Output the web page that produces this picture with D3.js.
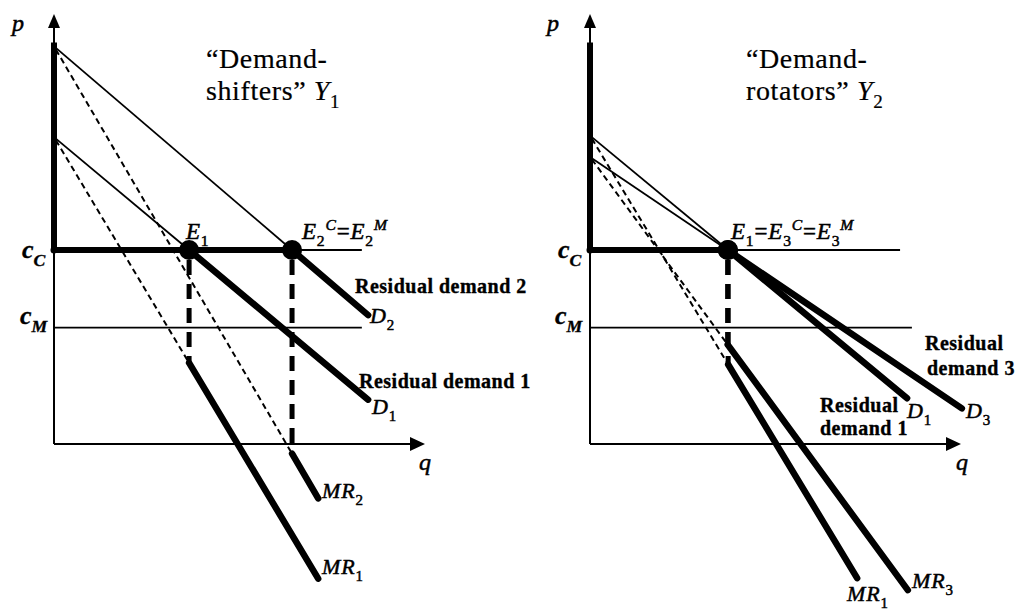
<!DOCTYPE html>
<html>
<head>
<meta charset="utf-8">
<script src="https://cdn.jsdelivr.net/npm/d3@7"></script>
<style>
  body { margin: 0; background: #fff; }
  svg { display: block; }
  text { font-family: 'Liberation Serif', 'Times New Roman', serif; fill: #000; stroke: #000; stroke-width: 0.35; }
  .bold { font-weight: bold; letter-spacing: 0.5px; }
  .title { letter-spacing: 0.6px; stroke-width: 0.2; }
  .sym { letter-spacing: 0.8px; stroke-width: 0.5; }
</style>
</head>
<body>
<div id="chart"></div>
<script>
// cost levels and axis extents (data units)
const cC = 5
const cM = 3
const qMax = 10
const pArrow = 11.08
const pThickTop = 10.35

// demand curves p = a - b q  (name, intercept, slope, end of residual part)
const shiftDemand = [
  { name: 'D1', a: 7.91, b: 0.797, qEnd: 8.49 },
  { name: 'D2', a: 10.25, b: 0.816, qEnd: 8.49 }
]
const shiftMR = [
  { name: 'MR1', a: 7.91, b: 1.594, qEnd: 7.14 },
  { name: 'MR2', a: 10.25, b: 1.632, qEnd: 7.14 }
]
const rotDemand = [
  { name: 'D1', a: 7.95, b: 0.79, qEnd: 8.57 },
  { name: 'D3', a: 7.4, b: 0.645, qEnd: 10.05 }
]
const rotMR = [
  { name: 'MR1', a: 7.95, b: 1.58, qEnd: 7.22 },
  { name: 'MR3', a: 7.4, b: 1.3, qEnd: 8.59 }
]
// end of the thin cost lines
const costLineEnd = { left: [8.32, 8.32], right: [8.38, 8.7] }

const W = 1016, H = 614
let svg = d3.select('#chart').append('svg').attr('width', W).attr('height', H)

let yScale = d3.scaleLinear().domain([0, 10]).range([444, 56])

function drawPanel (x0, demand, mr, costEnd) {
  let x = d3.scaleLinear().domain([0, qMax]).range([x0, x0 + 370])
  let y = yScale
  let g = svg.append('g')
  let line = d3.line().x(d => x(d[0])).y(d => y(d[1]))
  let qE = d => (d.a - cC) / d.b
  let pAt = (d, q) => d.a - d.b * q

  // axes
  g.append('line').attr('x1', x(0)).attr('y1', y(0)).attr('x2', x(0)).attr('y2', y(pArrow) + 10)
    .attr('stroke', '#000').attr('stroke-width', 2)
  g.append('path').attr('d', `M${x(0)},${y(pArrow)} l-6,14 l12,0 z`).attr('fill', '#000')
  g.append('line').attr('x1', x(0)).attr('y1', y(0)).attr('x2', x(qMax) - 10).attr('y2', y(0))
    .attr('stroke', '#000').attr('stroke-width', 2)
  g.append('path').attr('d', `M${x(qMax) + 1},${y(0)} l-15,-7 l0,14 z`).attr('fill', '#000')

  // cost lines
  g.append('line').attr('x1', x(0)).attr('x2', x(costEnd[0])).attr('y1', y(cC)).attr('y2', y(cC))
    .attr('stroke', '#000').attr('stroke-width', 1.8)
  g.append('line').attr('x1', x(0)).attr('x2', x(costEnd[1])).attr('y1', y(cM)).attr('y2', y(cM))
    .attr('stroke', '#000').attr('stroke-width', 1.8)

  // dashed MR up to the kink
  g.selectAll('.mrdash').data(mr).enter().append('path').classed('mrdash', true)
    .attr('d', (d, i) => line([[0.05, pAt(d, 0.05)], [qE(demand[i]), pAt(d, qE(demand[i]))]]))
    .attr('fill', 'none').attr('stroke', '#000').attr('stroke-width', 2).attr('stroke-dasharray', '6 4')

  // thin demand up to cC
  g.selectAll('.dthin').data(demand).enter().append('path').classed('dthin', true)
    .attr('d', d => line([[0.05, pAt(d, 0.05)], [qE(d), cC]]))
    .attr('fill', 'none').attr('stroke', '#000').attr('stroke-width', 1.8)

  // thick dashed verticals at equilibrium
  g.selectAll('.vdash').data(demand).enter().append('line').classed('vdash', true)
    .attr('x1', d => x(qE(d))).attr('x2', d => x(qE(d)))
    .attr('y1', y(cC) + 10).attr('y2', (d, i) => y(pAt(mr[i], qE(d))))
    .attr('stroke', '#000').attr('stroke-width', 5).attr('stroke-dasharray', '15 9')

  // residual demand: thick y-axis, thick cC segment, thick demand tail
  let qMaxE = d3.max(demand, qE)
  g.append('line').attr('x1', x(0)).attr('x2', x(0)).attr('y1', y(pThickTop)).attr('y2', y(cC))
    .attr('stroke', '#000').attr('stroke-width', 6)
  g.append('line').attr('x1', x(0)).attr('x2', x(qMaxE)).attr('y1', y(cC)).attr('y2', y(cC))
    .attr('stroke', '#000').attr('stroke-width', 6)
  g.selectAll('.dthick').data(demand).enter().append('path').classed('dthick', true)
    .attr('d', d => line([[qE(d), cC], [d.qEnd, pAt(d, d.qEnd)]]))
    .attr('fill', 'none').attr('stroke', '#000').attr('stroke-width', 6.5).attr('stroke-linecap', 'round')

  // thick MR tails
  g.selectAll('.mrthick').data(mr).enter().append('path').classed('mrthick', true)
    .attr('d', (d, i) => line([[qE(demand[i]), pAt(d, qE(demand[i]))], [d.qEnd, pAt(d, d.qEnd)]]))
    .attr('fill', 'none').attr('stroke', '#000').attr('stroke-width', 6.5).attr('stroke-linecap', 'round')

  // points
  g.append('circle').attr('cx', x(0)).attr('cy', y(cC)).attr('r', 3.5).attr('fill', '#000')
  g.selectAll('.eq').data(demand).enter().append('circle').classed('eq', true)
    .attr('cx', d => x(qE(d))).attr('cy', y(cC)).attr('r', 10).attr('fill', '#000')

  return { g, x, y, qE, pAt }
}

// label helper: parts = [[text, 'main'|'sub'|'sup', italic]]
function label (g, px, py, parts, size, cls) {
  let t = g.append('text').attr('x', px).attr('y', py).attr('font-size', size)
  if (cls) t.attr('class', cls)
  let shift = 0
  parts.forEach(p => {
    let s = t.append('tspan').text(p[0])
    let target = p[1] === 'sub' ? size * 0.3 : p[1] === 'sup' ? -size * 0.4 : 0
    if (target !== shift) { s.attr('dy', target - shift); shift = target }
    if (p[1] !== 'main') s.attr('font-size', size * 0.68)
    s.attr('font-style', p[2] ? 'italic' : 'normal')
  })
  return t
}

// cost label: bold italic c with subscript
function costLabel (g, px, py, sub) {
  label(g, px, py, [['c', 'main', true], [sub, 'sub', true]], 26).attr('font-weight', 'bold')
}

// Left panel
let L = drawPanel(54, shiftDemand, shiftMR, costLineEnd.left)
label(L.g, 12, 31, [['p', 'main', true]], 24, 'sym')
label(L.g, 206, 68, [['\u201cDemand-', 'main', false]], 28, 'title')
label(L.g, 206, 100, [['shifters\u201d ', 'main', false], ['Y', 'main', true], ['1', 'sub', false]], 28, 'title')
label(L.g, 186, 239, [['E', 'main', true], ['1', 'sub', false]], 23, 'sym')
label(L.g, 302, 239, [['E', 'main', true], ['2', 'sub', false], ['C', 'sup', true], ['=', 'main', false], ['E', 'main', true], ['2', 'sub', false], ['M', 'sup', true]], 23, 'sym')
costLabel(L.g, 22, 258, 'C')
costLabel(L.g, 20, 324, 'M')
label(L.g, 355, 293, [['Residual demand 2', 'main', false]], 20, 'bold')
label(L.g, 359, 388, [['Residual demand 1', 'main', false]], 20, 'bold')
label(L.g, 370, 323, [['D', 'main', true], ['2', 'sub', false]], 22, 'sym')
label(L.g, 372, 414, [['D', 'main', true], ['1', 'sub', false]], 22, 'sym')
label(L.g, 419, 470, [['q', 'main', true]], 24, 'sym')
label(L.g, 322, 498, [['MR', 'main', true], ['2', 'sub', false]], 22, 'sym')
label(L.g, 322, 574, [['MR', 'main', true], ['1', 'sub', false]], 22, 'sym')

// Right panel
let R = drawPanel(590, rotDemand, rotMR, costLineEnd.right)
label(R.g, 547, 31, [['p', 'main', true]], 24, 'sym')
label(R.g, 746, 68, [['\u201cDemand-', 'main', false]], 28, 'title')
label(R.g, 746, 100, [['rotators\u201d ', 'main', false], ['Y', 'main', true], ['2', 'sub', false]], 28, 'title')
label(R.g, 731, 239, [['E', 'main', true], ['1', 'sub', false], ['=', 'main', false], ['E', 'main', true], ['3', 'sub', false], ['C', 'sup', true], ['=', 'main', false], ['E', 'main', true], ['3', 'sub', false], ['M', 'sup', true]], 23, 'sym')
costLabel(R.g, 558, 258, 'C')
costLabel(R.g, 555, 324, 'M')
label(R.g, 925, 350, [['Residual', 'main', false]], 20, 'bold')
label(R.g, 927, 375, [['demand 3', 'main', false]], 20, 'bold')
label(R.g, 820, 412, [['Residual', 'main', false]], 20, 'bold')
label(R.g, 820, 435, [['demand 1', 'main', false]], 20, 'bold')
label(R.g, 907, 418, [['D', 'main', true], ['1', 'sub', false]], 22, 'sym')
label(R.g, 966, 418, [['D', 'main', true], ['3', 'sub', false]], 22, 'sym')
label(R.g, 956, 470, [['q', 'main', true]], 24, 'sym')
label(R.g, 912, 588, [['MR', 'main', true], ['3', 'sub', false]], 22, 'sym')
label(R.g, 847, 601, [['MR', 'main', true], ['1', 'sub', false]], 22, 'sym')
</script>
</body>
</html>
